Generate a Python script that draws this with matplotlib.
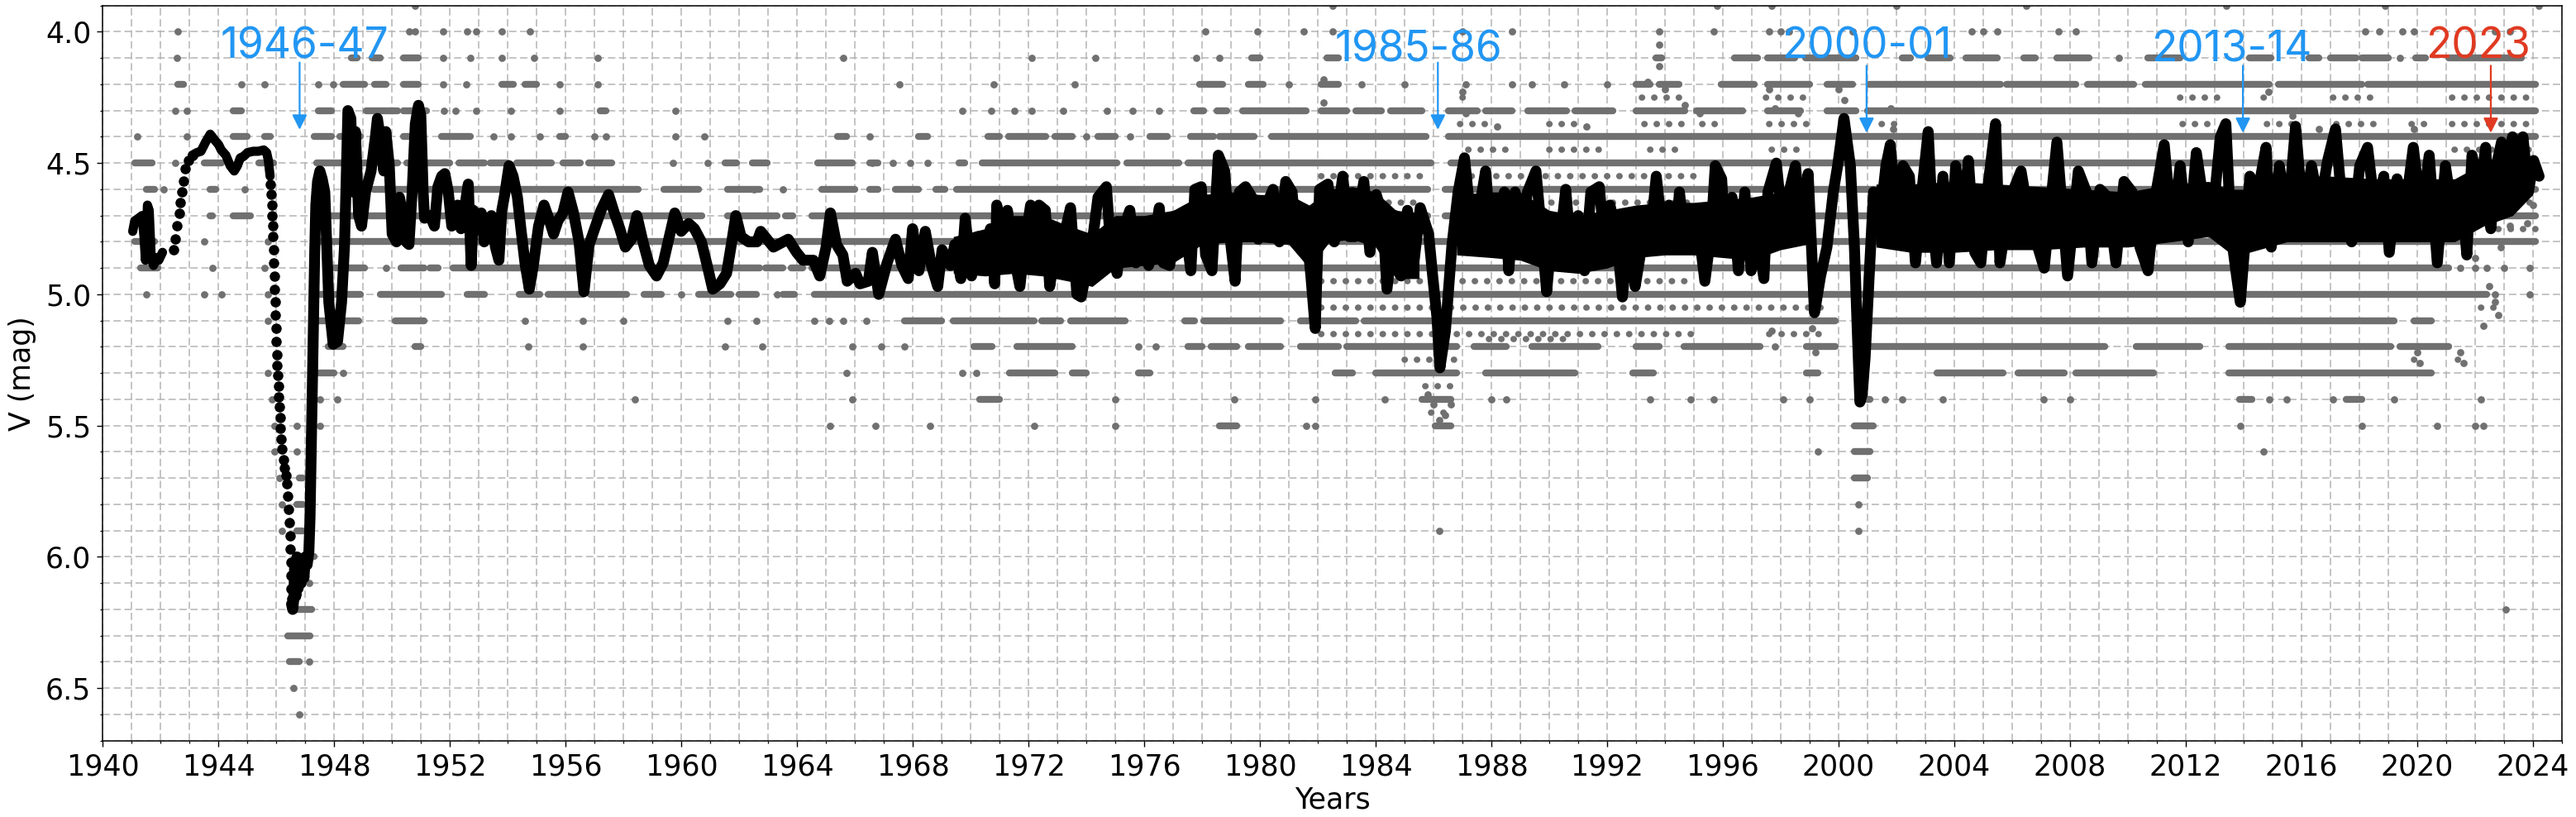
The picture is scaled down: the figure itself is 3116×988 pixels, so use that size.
"""V-band light curve 1940-2024: visual estimates (grey) with the smoothed curve (black)
and the five fading episodes marked with arrows."""

import matplotlib
matplotlib.use("Agg")
import matplotlib.pyplot as plt
from matplotlib.ticker import MultipleLocator, FormatStrFormatter

GREY = "#707070"
BLUE = "#2196F3"
RED = "#E03A22"

# ---- smoothed curve (black) ----
blob_year = [1941.03, 1941.10, 1941.23, 1941.35, 1941.42, 1941.47, 1941.54, 1941.60,
             1941.67, 1941.75, 1941.85, 1941.93, 1942.06]
blob_mag = [4.76, 4.72, 4.71, 4.70, 4.78, 4.87, 4.66, 4.68, 4.86, 4.89, 4.86, 4.87, 4.84]

rise_year = [1942.44, 1942.50, 1942.57, 1942.63, 1942.67, 1942.72, 1942.78, 1942.85,
             1942.97, 1943.09]
rise_mag = [4.83, 4.79, 4.74, 4.69, 4.65, 4.61, 4.57, 4.52, 4.49, 4.47]

plateau_year = [1943.09, 1943.25, 1943.39, 1943.55, 1943.71, 1943.85, 1944.00, 1944.09,
                1944.25, 1944.40, 1944.54, 1944.65, 1944.75, 1944.86, 1945.00, 1945.20,
                1945.37, 1945.56, 1945.66, 1945.72, 1945.78]
plateau_mag = [4.47, 4.46, 4.455, 4.42, 4.39, 4.41, 4.43, 4.45, 4.47, 4.51, 4.53, 4.51,
               4.48, 4.475, 4.46, 4.455, 4.455, 4.45, 4.46, 4.49, 4.55]

drop_year = [1945.80, 1945.82, 1945.84, 1945.85, 1945.87, 1945.88, 1945.89, 1945.905,
             1945.92, 1945.935, 1945.95, 1945.965, 1945.98, 1945.995, 1946.01, 1946.025,
             1946.04, 1946.06, 1946.08, 1946.10, 1946.12, 1946.14, 1946.17, 1946.20,
             1946.24, 1946.28, 1946.33, 1946.37, 1946.40, 1946.42, 1946.44, 1946.46,
             1946.48, 1946.49, 1946.50, 1946.51, 1946.52]
drop_mag = [4.58, 4.62, 4.66, 4.70, 4.74, 4.78, 4.83, 4.88, 4.93, 4.98, 5.03, 5.08, 5.13,
            5.18, 5.23, 5.27, 5.31, 5.35, 5.39, 5.43, 5.47, 5.51, 5.55, 5.59, 5.63, 5.66,
            5.69, 5.72, 5.77, 5.82, 5.87, 5.92, 5.97, 6.02, 6.07, 6.12, 6.16]

main_curve = [
    (1946.52, 6.18), (1946.56, 6.20), (1946.60, 6.16), (1946.63, 6.02), (1946.67, 6.15),
    (1946.71, 6.00), (1946.75, 6.12), (1946.80, 6.03), (1946.85, 6.10), (1946.90, 6.02),
    (1946.95, 6.08), (1947.00, 6.00), (1947.06, 6.03), (1947.12, 5.98), (1947.16, 5.85),
    (1947.20, 5.60), (1947.24, 5.35), (1947.28, 5.10), (1947.32, 4.85), (1947.36, 4.66),
    (1947.42, 4.57), (1947.50, 4.53), (1947.58, 4.56), (1947.67, 4.61), (1947.74, 4.82),
    (1947.81, 5.03), (1947.96, 5.19), (1948.11, 5.18), (1948.25, 5.03), (1948.35, 4.82),
    (1948.40, 4.61), (1948.47, 4.30), (1948.57, 4.33), (1948.65, 4.61), (1948.73, 4.38),
    (1948.84, 4.70), (1948.94, 4.74), (1949.08, 4.61), (1949.27, 4.53), (1949.42, 4.40),
    (1949.49, 4.33), (1949.61, 4.42), (1949.71, 4.53), (1949.78, 4.38), (1949.90, 4.51),
    (1950.00, 4.77), (1950.15, 4.80), (1950.25, 4.63), (1950.37, 4.70), (1950.48, 4.80),
    (1950.58, 4.81), (1950.69, 4.61), (1950.80, 4.35), (1950.91, 4.28), (1950.99, 4.32),
    (1951.07, 4.61), (1951.12, 4.71), (1951.31, 4.70), (1951.46, 4.74), (1951.58, 4.59),
    (1951.71, 4.55), (1951.82, 4.54), (1951.94, 4.61), (1952.06, 4.74), (1952.16, 4.68),
    (1952.26, 4.66), (1952.38, 4.75), (1952.49, 4.68), (1952.63, 4.58), (1952.73, 4.89),
    (1952.81, 4.68), (1952.95, 4.72), (1953.08, 4.69), (1953.18, 4.80), (1953.31, 4.78),
    (1953.43, 4.70), (1953.57, 4.82), (1953.69, 4.87), (1953.79, 4.68), (1953.89, 4.62),
    (1954.04, 4.51), (1954.18, 4.55), (1954.33, 4.63), (1954.45, 4.75), (1954.59, 4.88),
    (1954.74, 4.98), (1954.88, 4.89), (1955.06, 4.74), (1955.25, 4.66), (1955.41, 4.71),
    (1955.58, 4.77), (1955.73, 4.72), (1955.90, 4.69), (1956.08, 4.61), (1956.27, 4.69),
    (1956.46, 4.80), (1956.63, 4.99), (1956.81, 4.81), (1957.00, 4.75), (1957.22, 4.68),
    (1957.48, 4.62), (1957.68, 4.69), (1957.87, 4.75), (1958.06, 4.82), (1958.27, 4.79),
    (1958.46, 4.70), (1958.67, 4.80), (1958.89, 4.89), (1959.14, 4.93), (1959.37, 4.88),
    (1959.58, 4.78), (1959.77, 4.69), (1959.99, 4.76), (1960.25, 4.73), (1960.45, 4.75),
    (1960.69, 4.80), (1960.89, 4.89), (1961.08, 4.98), (1961.33, 4.96), (1961.56, 4.92),
    (1961.74, 4.80), (1961.88, 4.70), (1962.06, 4.78), (1962.32, 4.80), (1962.61, 4.80),
    (1962.74, 4.76), (1963.18, 4.82), (1963.69, 4.79), (1963.98, 4.84), (1964.20, 4.87),
    (1964.56, 4.87), (1964.78, 4.93), (1965.00, 4.82), (1965.15, 4.69), (1965.36, 4.81),
    (1965.58, 4.85), (1965.73, 4.95), (1966.02, 4.92), (1966.17, 4.96), (1966.46, 4.95),
    (1966.60, 4.84), (1966.82, 5.00), (1967.11, 4.88), (1967.40, 4.79), (1967.62, 4.89),
    (1967.84, 4.94), (1967.99, 4.75), (1968.21, 4.91), (1968.43, 4.76), (1968.64, 4.89),
    (1968.86, 4.97), (1969.01, 4.83), (1969.30, 4.89), (1969.45, 4.81), (1969.66, 4.94),
    (1969.81, 4.71), (1970.03, 4.93), (1970.25, 4.78), (1970.47, 4.89), (1970.68, 4.75),
    (1970.83, 4.96), (1970.90, 4.66), (1971.12, 4.82), (1971.27, 4.68), (1971.49, 4.85),
    (1971.70, 4.97), (1971.85, 4.82), (1972.07, 4.66), (1972.22, 4.90), (1972.36, 4.66),
    (1972.58, 4.68), (1972.73, 4.97), (1972.94, 4.82), (1973.24, 4.77), (1973.45, 4.67),
    (1973.67, 5.00), (1973.82, 5.01), (1973.96, 4.93), (1974.18, 4.82), (1974.40, 4.63),
    (1974.69, 4.59), (1974.84, 4.82), (1975.06, 4.92), (1975.20, 4.78), (1975.50, 4.68),
    (1975.71, 4.88), (1975.93, 4.79), (1976.15, 4.89), (1976.37, 4.78), (1976.52, 4.67),
    (1976.66, 4.88), (1976.88, 4.89), (1977.10, 4.70), (1977.39, 4.72), (1977.61, 4.91),
    (1977.75, 4.60), (1977.97, 4.59), (1978.12, 4.85), (1978.34, 4.91), (1978.56, 4.47),
    (1978.78, 4.53), (1978.92, 4.74), (1979.14, 4.95), (1979.29, 4.61), (1979.50, 4.59),
    (1979.72, 4.63), (1979.94, 4.79), (1980.16, 4.68), (1980.45, 4.60), (1980.67, 4.80),
    (1980.89, 4.57), (1981.11, 4.61), (1981.25, 4.79), (1981.54, 4.68), (1981.76, 4.93),
    (1981.91, 5.13), (1982.06, 4.60), (1982.35, 4.58), (1982.57, 4.80), (1982.86, 4.55),
    (1983.08, 4.78), (1983.29, 4.78), (1983.59, 4.57), (1983.80, 4.84), (1984.02, 4.62),
    (1984.24, 4.70), (1984.39, 4.98), (1984.68, 4.70), (1984.88, 4.93), (1985.10, 4.68),
    (1985.32, 4.88), (1985.54, 4.67), (1985.83, 4.77), (1985.97, 4.93), (1986.12, 5.09),
    (1986.22, 5.28), (1986.41, 5.14), (1986.63, 4.82), (1986.85, 4.61), (1987.07, 4.48),
    (1987.29, 4.72), (1987.43, 4.82), (1987.65, 4.63), (1987.80, 4.53), (1988.01, 4.82),
    (1988.23, 4.74), (1988.45, 4.61), (1988.60, 4.91), (1988.82, 4.61), (1989.03, 4.77),
    (1989.25, 4.61), (1989.54, 4.53), (1989.76, 4.80), (1989.91, 4.99), (1990.13, 4.72),
    (1990.35, 4.82), (1990.57, 4.60), (1990.78, 4.88), (1991.00, 4.70), (1991.22, 4.91),
    (1991.44, 4.61), (1991.73, 4.59), (1991.88, 4.77), (1992.10, 4.66), (1992.32, 4.77),
    (1992.53, 5.01), (1992.75, 4.74), (1992.97, 4.97), (1993.19, 4.82), (1993.48, 4.80),
    (1993.70, 4.55), (1993.92, 4.77), (1994.14, 4.66), (1994.36, 4.82), (1994.50, 4.61),
    (1994.72, 4.82), (1994.94, 4.78), (1995.16, 4.75), (1995.38, 4.95), (1995.59, 4.77),
    (1995.74, 4.51), (1995.96, 4.56), (1996.10, 4.82), (1996.32, 4.63), (1996.54, 4.91),
    (1996.76, 4.61), (1996.98, 4.91), (1997.20, 4.77), (1997.42, 4.94), (1997.56, 4.61),
    (1997.85, 4.50), (1998.07, 4.74), (1998.29, 4.61), (1998.51, 4.51), (1998.73, 4.75),
    (1998.95, 4.54), (1999.17, 5.07), (1999.38, 4.93), (1999.60, 4.82), (1999.82, 4.61),
    (1999.97, 4.51), (2000.19, 4.33), (2000.41, 4.51), (2000.55, 4.82), (2000.65, 5.14),
    (2000.74, 5.41), (2000.82, 5.38), (2000.92, 5.24), (2001.06, 4.93), (2001.21, 4.61),
    (2001.43, 4.72), (2001.64, 4.51), (2001.79, 4.43), (2002.01, 4.72), (2002.23, 4.51),
    (2002.45, 4.55), (2002.66, 4.88), (2002.88, 4.61), (2003.10, 4.38), (2003.25, 4.72),
    (2003.39, 4.88), (2003.61, 4.55), (2003.83, 4.88), (2004.05, 4.51), (2004.27, 4.72),
    (2004.49, 4.49), (2004.71, 4.84), (2004.92, 4.88), (2005.14, 4.61), (2005.43, 4.35),
    (2005.58, 4.88), (2005.80, 4.72), (2006.02, 4.61), (2006.31, 4.53), (2006.60, 4.72),
    (2006.89, 4.82), (2007.11, 4.90), (2007.55, 4.42), (2007.92, 4.93), (2008.29, 4.53),
    (2008.57, 4.61), (2008.76, 4.88), (2009.04, 4.60), (2009.31, 4.63), (2009.59, 4.88),
    (2009.87, 4.57), (2010.15, 4.61), (2010.42, 4.82), (2010.70, 4.91), (2010.98, 4.61),
    (2011.26, 4.43), (2011.54, 4.77), (2011.81, 4.51), (2012.09, 4.80), (2012.37, 4.46),
    (2012.65, 4.67), (2012.92, 4.72), (2013.20, 4.40), (2013.39, 4.35), (2013.57, 4.77),
    (2013.76, 4.93), (2013.89, 5.03), (2014.04, 4.82), (2014.22, 4.55), (2014.50, 4.61),
    (2014.78, 4.44), (2014.96, 4.82), (2015.24, 4.51), (2015.52, 4.72), (2015.80, 4.36),
    (2016.07, 4.72), (2016.35, 4.51), (2016.63, 4.67), (2016.91, 4.49), (2017.18, 4.37),
    (2017.46, 4.72), (2017.74, 4.80), (2018.02, 4.51), (2018.29, 4.44), (2018.57, 4.70),
    (2018.85, 4.55), (2019.04, 4.84), (2019.31, 4.56), (2019.59, 4.68), (2019.87, 4.44),
    (2020.15, 4.70), (2020.42, 4.47), (2020.70, 4.88), (2020.98, 4.51), (2021.26, 4.72),
    (2021.54, 4.61), (2021.72, 4.85), (2021.90, 4.47), (2022.18, 4.61), (2022.37, 4.44),
    (2022.55, 4.75), (2022.74, 4.51), (2022.92, 4.42), (2023.11, 4.57), (2023.30, 4.40),
    (2023.48, 4.60), (2023.66, 4.40), (2023.85, 4.61), (2024.03, 4.49), (2024.22, 4.55),
]

# densely filled core of the smoothed curve (bright / faint edge of the solid black)
core_a_year = [1969.4, 1970.5, 1971.5, 1972.5, 1973.4, 1974.2, 1975.0, 1976.0, 1977.0,
               1978.0, 1979.0, 1980.0, 1981.0, 1981.7, 1982.4, 1983.2, 1984.0, 1984.7, 1985.5]
core_a_top = [4.78, 4.75, 4.70, 4.70, 4.74, 4.77, 4.70, 4.70, 4.68, 4.62, 4.61, 4.62, 4.62,
              4.66, 4.60, 4.59, 4.61, 4.68, 4.69]
core_a_bot = [4.92, 4.93, 4.92, 4.93, 4.95, 4.97, 4.90, 4.89, 4.88, 4.81, 4.80, 4.80, 4.81,
              4.90, 4.80, 4.79, 4.82, 4.94, 4.94]
core_b_year = [1986.8, 1988.0, 1989.0, 1990.0, 1991.0, 1992.0, 1993.0, 1994.0, 1995.0,
               1996.0, 1997.0, 1998.0, 1998.9]
core_b_top = [4.62, 4.61, 4.61, 4.68, 4.70, 4.68, 4.66, 4.65, 4.65, 4.64, 4.63, 4.61, 4.59]
core_b_bot = [4.85, 4.86, 4.87, 4.91, 4.92, 4.90, 4.86, 4.85, 4.85, 4.86, 4.87, 4.83, 4.81]
core_c_year = [2001.3, 2002.5, 2004.0, 2005.5, 2007.0, 2008.5, 2010.0, 2011.5, 2012.8,
               2013.5, 2014.2, 2015.5, 2017.0, 2018.5, 2020.0, 2021.3, 2022.3, 2023.3, 2024.0]
core_c_top = [4.58, 4.58, 4.57, 4.58, 4.59, 4.60, 4.61, 4.58, 4.57, 4.60, 4.60, 4.55, 4.55,
              4.56, 4.56, 4.56, 4.50, 4.47, 4.50]
core_c_bot = [4.82, 4.84, 4.84, 4.83, 4.83, 4.82, 4.82, 4.80, 4.78, 4.84, 4.84, 4.80, 4.80,
              4.80, 4.80, 4.80, 4.74, 4.70, 4.62]

# ---- individual estimates (grey), quantised to 0.1 mag: (start, end) runs per level ----
band_41 = [(1948.6, 1948.8), (1949.3, 1949.6), (1950.4, 1950.9), (1979.7, 1980.0),
           (1982.3, 1982.7), (1993.7, 1993.9), (1996.4, 1997.2), (1997.55, 1998.5),
           (1998.85, 2000.6), (2002.2, 2002.5), (2003.1, 2003.85), (2004.4, 2005.5),
           (2006.4, 2006.8), (2007.55, 2008.65), (2010.7, 2011.8), (2014.2, 2014.95),
           (2016.25, 2016.6), (2017.0, 2017.9), (2018.1, 2019.0), (2019.95, 2020.3),
           (2021.1, 2023.6)]
band_42 = [(1942.6, 1942.8), (1948.3, 1949.05), (1949.4, 1949.8), (1950.4, 1950.9),
           (1953.8, 1954.2), (1954.6, 1955.0), (1977.9, 1978.7), (1979.6, 1980.1),
           (1982.1, 1982.7), (1993.0, 1993.5), (1993.8, 1994.5), (1995.95, 1997.1),
           (1997.55, 1999.0), (1999.6, 2000.5), (2001.05, 2005.6), (2005.8, 2008.2),
           (2008.6, 2010.2), (2010.6, 2014.9), (2015.2, 2018.1), (2018.3, 2024.1)]
band_43 = [(1944.5, 1944.8), (1947.45, 1947.9), (1949.1, 1950.2), (1950.4, 1951.2),
           (1957.2, 1957.4), (1977.7, 1978.05), (1978.5, 1978.85), (1979.4, 1981.6),
           (1982.1, 1983.0), (1983.3, 1984.2), (1984.5, 1985.6), (1986.5, 1987.5),
           (1987.8, 1988.7), (1989.25, 1990.6), (1990.9, 1992.2), (1993.0, 1994.7),
           (1995.1, 1996.7), (1997.55, 1998.7), (1999.6, 2000.6), (2001.0, 2024.1)]
band_44 = [(1944.5, 1945.0), (1945.6, 1945.8), (1947.3, 1947.9), (1948.2, 1948.9),
           (1950.4, 1950.6), (1951.7, 1952.7), (1955.8, 1956.0), (1965.4, 1965.7),
           (1968.2, 1968.5), (1970.6, 1971.0), (1971.3, 1972.6), (1972.9, 1973.5),
           (1974.4, 1975.0), (1976.2, 1976.8), (1977.6, 1978.4), (1978.6, 1979.8),
           (1980.4, 1985.75), (1986.5, 2024.1)]
band_45 = [(1941.1, 1941.7), (1943.5, 1944.1), (1945.4, 1945.9), (1947.4, 1948.5),
           (1948.7, 1950.2), (1950.5, 1952.0), (1952.3, 1953.2), (1953.4, 1954.0),
           (1954.3, 1955.5), (1955.9, 1956.5), (1956.8, 1957.6), (1961.5, 1961.9),
           (1962.45, 1962.95), (1964.7, 1965.9), (1966.5, 1966.8), (1969.6, 1969.8),
           (1970.4, 1975.06), (1975.4, 1977.2), (1977.5, 1985.9), (1986.6, 2024.1)]
band_46 = [(1941.5, 1941.8), (1943.7, 1943.9), (1949.35, 1958.5), (1959.4, 1960.6),
           (1961.6, 1962.7), (1964.85, 1966.0), (1966.5, 1966.8), (1967.4, 1968.2),
           (1968.8, 1969.1), (1969.5, 1985.8), (1986.4, 2024.1)]
band_47 = [(1943.7, 1943.8), (1944.5, 1945.1), (1947.45, 1960.7), (1961.6, 1963.3),
           (1963.6, 1963.85), (1964.5, 1985.8), (1986.4, 2024.1)]
band_48 = [(1941.1, 1941.8), (1947.45, 2024.1)]
band_49 = [(1941.3, 1941.9), (1948.0, 1949.05), (1950.3, 1951.1), (1951.3, 1951.6),
           (1952.1, 1962.7), (1962.9, 1963.5), (1963.8, 1964.2), (1964.5, 2021.1)]
band_50 = [(1947.45, 1948.9), (1949.6, 1951.7), (1952.6, 1953.2), (1954.4, 1955.1),
           (1955.4, 1956.6), (1956.85, 1958.1), (1958.7, 1959.3), (1960.6, 1961.7),
           (1962.0, 1962.6), (1963.5, 1963.9), (1964.6, 1969.3), (1969.4, 2022.4)]
band_51 = [(1947.3, 1947.9), (1948.2, 1948.85), (1950.1, 1951.1), (1967.7, 1969.0),
           (1969.4, 1972.2), (1972.45, 1973.1), (1973.45, 1975.35), (1977.4, 1977.75),
           (1978.05, 1980.7), (1981.4, 1983.3), (1983.6, 1999.9), (2001.06, 2019.2),
           (2019.9, 2020.5)]
band_52 = [(1947.8, 1948.3), (1950.8, 1951.0), (1970.1, 1970.75), (1971.6, 1973.5),
           (1977.5, 1978.0), (1978.3, 1979.2), (1979.6, 1980.7), (1981.4, 1982.7),
           (1983.0, 1986.8), (1987.4, 1988.5), (1989.4, 1991.7), (1993.0, 1993.8),
           (1994.65, 1997.3), (1998.9, 1999.9), (2001.07, 2009.2), (2010.3, 2012.5),
           (2013.5, 2019.1), (2019.4, 2021.1)]
band_53 = [(1947.45, 1948.0), (1971.35, 1972.9), (1973.5, 1974.0), (1975.8, 1976.2),
           (1982.6, 1983.2), (1984.0, 1986.8), (1987.8, 1990.9), (1992.9, 1993.6),
           (1998.9, 1999.3), (2003.4, 2005.7), (2006.2, 2007.8), (2008.2, 2010.9),
           (2013.5, 2020.5)]
band_54 = [(1970.3, 1971.0), (1985.6, 1986.6), (2000.7, 2001.1), (2013.85, 2014.3),
           (2017.55, 2018.1)]
band_55 = [(1978.6, 1979.2), (1986.05, 1986.6), (2000.55, 2001.2)]
band_56 = [(2000.55, 2001.1)]
band_57 = [(2000.55, 2001.0), (1946.8, 1946.9)]
band_58 = [(1946.71, 1946.9)]
band_59 = [(1946.71, 1946.9)]
band_60 = [(1946.71, 1947.3)]
band_62 = [(1946.52, 1947.22)]
band_63 = [(1946.40, 1947.16)]
band_64 = [(1946.45, 1946.80)]

band_levels = [4.1, 4.2, 4.3, 4.4, 4.5, 4.6, 4.7, 4.8, 4.9, 5.0, 5.1, 5.2, 5.3, 5.4,
               5.5, 5.6, 5.7, 5.8, 5.9, 6.0, 6.2, 6.3, 6.4]
band_runs = [band_41, band_42, band_43, band_44, band_45, band_46, band_47, band_48,
             band_49, band_50, band_51, band_52, band_53, band_54, band_55,
             band_56, band_57, band_58, band_59, band_60, band_62, band_63, band_64]

# photoelectric / CCD points between the 0.1 mag levels: runs of scattered points
off_425 = [(1987.0, 1987.3), (1993.2, 1994.6), (1997.5, 1998.9), (2011.8, 2013.1),
           (2014.7, 2015.1), (2017.1, 2018.7), (2021.2, 2024.1)]
off_435 = [(1986.9, 1988.0), (1990.0, 1991.0), (1993.3, 1994.8), (1995.3, 1996.0),
           (1997.6, 1998.9), (2001.5, 2002.0), (2011.9, 2013.0), (2014.8, 2015.9),
           (2017.2, 2018.7), (2019.8, 2020.5), (2021.2, 2024.1)]
off_445 = [(1987.2, 1988.8), (1990.0, 1992.0), (1993.5, 1994.5), (1997.7, 1998.9),
           (2021.3, 2024.1)]
off_455 = [(1982.1, 1985.7), (1987.3, 1995.0), (2022.0, 2024.1)]
off_465 = [(1982.3, 1985.5), (1987.5, 1994.8), (2022.6, 2024.1)]
off_475 = [(2012.4, 2013.1), (2022.8, 2024.1)]
off_495 = [(1982.1, 1985.7), (1987.0, 1995.0)]
off_505 = [(1982.1, 1986.0), (1986.6, 1999.5), (2022.2, 2023.0)]
off_515 = [(1982.1, 1986.3), (1986.8, 1995.0), (1997.6, 1999.4)]
off_517 = [(1987.9, 1990.8)]
off_525 = [(1985.0, 1986.8), (2019.9, 2020.2), (2021.4, 2021.7)]
off_535 = [(1985.7, 1986.7)]
off_545 = [(1985.9, 1986.6)]

off_levels = [4.25, 4.35, 4.45, 4.55, 4.65, 4.75, 4.95, 5.05, 5.15, 5.17, 5.25, 5.35, 5.45]
off_runs = [off_425, off_435, off_445, off_455, off_465, off_475, off_495, off_505,
            off_515, off_517, off_525, off_535, off_545]

# isolated estimates: years per magnitude level
dots_39 = [1950.8, 1982.5, 1995.8, 1997.7, 2002.0, 2006.5, 2013.4, 2018.9, 2024.2]
dots_40 = [1942.6, 1950.6, 1950.8, 1951.75, 1952.6, 1952.9, 1953.8, 1954.75, 1978.1,
           1979.9, 1981.5, 1982.5, 1987.0, 1988.7, 1993.8, 1995.7, 1997.6, 1998.0, 1998.3,
           2000.5, 2004.6, 2005.0, 2005.5, 2007.6, 2008.2, 2018.2, 2018.7, 2019.5, 2019.9,
           2022.7, 2023.2]
dots_41 = [1942.57, 1951.75, 1952.7, 1953.8, 1954.9, 1957.1, 1965.6, 1972.1, 1974.3,
           1977.8, 1978.6, 2009.7, 2019.4]
dots_42 = [1944.8, 1945.6, 1947.45, 1947.96, 1951.75, 1952.55, 1955.8, 1957.1, 1967.55,
           1970.8, 1973.6, 1981.0, 1983.5, 1985.0, 1987.1, 1988.7, 1989.4, 1990.5, 1992.0]
dots_43 = [1942.5, 1942.9, 1951.8, 1952.2, 1952.9, 1954.1, 1955.8, 1959.8, 1969.7,
           1970.7, 1971.5, 1972.1, 1973.2, 1974.7, 1975.6, 1976.5]
dots_44 = [1941.2, 1942.9, 1953.5, 1954.1, 1955.1, 1957.0, 1957.4, 1959.8, 1960.8,
           1966.5, 1974.0, 1975.5]
dots_45 = [1942.5, 1959.7, 1960.9, 1966.6, 1967.3, 1967.9, 1968.5]
dots_46 = [1942.1, 1944.9, 1962.5, 1963.5]
dots_48 = [1943.5, 1945.7]
dots_49 = [1943.8, 1945.6, 1949.8, 2021.5, 2022.0, 2022.4, 2023.0, 2023.9]
dots_50 = [1941.5, 1943.5, 1944.1, 1945.7, 1960.0, 1963.3, 2022.7, 2023.9]
dots_51 = [1945.7, 1954.6, 1956.6, 1958.0, 1961.6, 1962.6, 1964.6, 1965.1, 1965.6, 1966.4]
dots_52 = [1954.7, 1956.6, 1961.5, 1962.8, 1965.9, 1966.9, 1967.7, 1975.8, 1976.4]
dots_53 = [1945.7, 1948.3, 1965.7, 1969.7, 1970.2]
dots_54 = [1945.85, 1947.5, 1948.1, 1958.4, 1965.9, 1975.0, 1979.1, 1981.9, 1984.3,
           1988.0, 1988.5, 1993.5, 1994.9, 1995.7, 1998.1, 1999.0, 2001.6, 2002.2, 2003.6,
           2007.1, 2008.0, 2014.9, 2015.5, 2017.1, 2019.2, 2022.2]
dots_55 = [1945.94, 1946.71, 1947.5, 1965.15, 1966.7, 1968.6, 1972.2, 1975.0, 1981.6,
           1981.9, 2013.9, 2018.1, 2020.7, 2022.0, 2022.3]
dots_56 = [1945.94, 1946.71, 1999.3, 2014.7]
dots_57 = [1946.09]
dots_58 = [1946.2, 2000.7]
dots_59 = [1946.2, 1986.2, 2000.7]
dots_61 = [1947.13]
dots_62 = [2023.07]
dots_64 = [1947.13]
dots_65 = [1946.58]
dots_66 = [1946.8]

dot_levels = [3.9, 4.0, 4.1, 4.2, 4.3, 4.4, 4.5, 4.6, 4.8, 4.9, 5.0, 5.1, 5.2, 5.3, 5.4,
              5.5, 5.6, 5.7, 5.8, 5.9, 6.1, 6.2, 6.4, 6.5, 6.6]
dot_years = [dots_39, dots_40, dots_41, dots_42, dots_43, dots_44, dots_45, dots_46,
             dots_48, dots_49, dots_50, dots_51, dots_52, dots_53, dots_54, dots_55,
             dots_56, dots_57, dots_58, dots_59, dots_61, dots_62, dots_64, dots_65, dots_66]

# scattered single off-grid points
cloud = [
    (1982.2, 4.18), (1982.2, 4.27), (1987.0, 4.23), (1987.1, 4.31), (1993.8, 4.05),
    (1993.8, 4.13), (1993.4, 4.19), (1994.0, 4.22), (1994.7, 4.28), (1995.2, 4.31),
    (1997.6, 4.22), (1997.8, 4.29), (1998.6, 4.31), (1999.1, 5.13), (1999.2, 5.22),
    (2000.0, 4.22), (2000.2, 4.26), (2001.8, 4.29), (2001.9, 4.37), (1984.7, 4.74),
    (1985.1, 4.77), (1988.2, 4.36), (1991.3, 4.36), (1997.7, 5.14), (1997.8, 5.20),
    (2012.7, 4.73), (2012.9, 4.78), (2013.1, 4.77), (2014.85, 4.23), (2015.7, 4.32),
    (2016.6, 4.37), (2019.9, 4.37), (2020.0, 5.22), (2020.1, 5.26), (2021.5, 5.22),
    (2021.6, 5.26), (2022.0, 4.86), (2022.3, 5.12), (2022.5, 4.97), (2022.7, 5.03),
    (2022.8, 5.08), (2022.9, 4.82), (2023.2, 4.74), (2023.8, 4.73), (2024.0, 4.66),
    (1986.0, 5.42), (1986.2, 5.48), (1986.4, 5.46), (1986.6, 5.42), (1985.8, 5.38),
]

# fading episodes
event_labels = ["1946-47", "1985-86", "2000-01", "2013-14", "2023"]
event_year = [1946.8, 1986.15, 2000.97, 2013.98, 2022.55]
label_year = [1946.96, 1985.47, 2000.96, 2013.6, 2022.1]
event_colors = [BLUE, BLUE, BLUE, BLUE, RED]


def _runs(levels, runs):
    ys, xa, xb = [], [], []
    for lvl, rr in zip(levels, runs):
        for a, b in rr:
            ys.append(lvl)
            xa.append(a)
            xb.append(b)
    return ys, xa, xb


def main():
    fig = plt.figure(figsize=(31.16, 9.88), dpi=100)
    ax = fig.add_axes([0.03995, 0.0934, 0.95449, 0.8998])

    # grey estimates
    ys, xa, xb = _runs(band_levels, band_runs)
    ax.hlines(ys, xa, xb, colors=GREY, lw=6.0, capstyle="round", zorder=2)
    ys, xa, xb = _runs(off_levels, off_runs)
    ax.hlines(ys, xa, xb, colors=GREY, lw=5.5, capstyle="round",
              linestyles=[(0, (0.05, 1.9))], zorder=2)

    dx, dy = [], []
    for lvl, yrs in zip(dot_levels, dot_years):
        dx += yrs
        dy += [lvl] * len(yrs)
    cx, cy = zip(*cloud)
    ax.scatter(list(dx) + list(cx), list(dy) + list(cy), s=40, color=GREY, lw=0, zorder=2)

    # smoothed curve
    ax.fill_between(core_a_year, core_a_top, core_a_bot, color="black", lw=0, zorder=3)
    ax.fill_between(core_b_year, core_b_top, core_b_bot, color="black", lw=0, zorder=3)
    ax.fill_between(core_c_year, core_c_top, core_c_bot, color="black", lw=0, zorder=3)
    ax.plot(blob_year, blob_mag, "-", color="black", lw=8,
            solid_joinstyle="round", solid_capstyle="round", zorder=3)
    ax.plot(rise_year, rise_mag, "o", color="black", ms=8, zorder=3)
    ax.plot(plateau_year, plateau_mag, "-", color="black", lw=8,
            solid_joinstyle="round", solid_capstyle="round", zorder=3)
    ax.plot(drop_year, drop_mag, "o", color="black", ms=8, zorder=3)
    my, mm = zip(*main_curve)
    ax.plot(my, mm, "-", color="black", lw=9.5,
            solid_joinstyle="round", solid_capstyle="round", zorder=3)

    # episode labels and arrows
    for lab, xa_, xt, col in zip(event_labels, event_year, label_year, event_colors):
        base = 4.113 if lab in ("1985-86", "2013-14") else 4.10
        ax.text(xt, base, lab, ha="center", va="baseline", fontsize=37,
                color=col, family=["Inter", "DejaVu Sans"], zorder=6)
        tail = 4.117 if lab in ("1946-47", "1985-86") else 4.129
        ax.annotate("", xy=(xa_, tail + 0.256), xytext=(xa_, tail),
                    arrowprops=dict(arrowstyle="-|>", color=col, lw=1.6,
                                    mutation_scale=27, shrinkA=0, shrinkB=0),
                    zorder=6)

    ax.set_xlim(1940, 2025)
    ax.set_ylim(6.7, 3.9)
    ax.xaxis.set_major_locator(MultipleLocator(4))
    ax.xaxis.set_minor_locator(MultipleLocator(1))
    ax.yaxis.set_major_locator(MultipleLocator(0.5))
    ax.yaxis.set_minor_locator(MultipleLocator(0.1))
    ax.yaxis.set_major_formatter(FormatStrFormatter("%.1f"))

    ax.set_axisbelow(True)
    ax.grid(True, which="both", color="#b4b4b4", lw=1.1, ls=(0, (5.8, 2.9)))
    ax.tick_params(which="major", labelsize=25, length=4.8, width=1, pad=5.5)
    ax.tick_params(which="minor", length=2.4, width=0.9)
    ax.set_xlabel("Years", fontsize=25, labelpad=5)
    ax.set_ylabel("V (mag)", fontsize=25, labelpad=8)
    for sp in ax.spines.values():
        sp.set_linewidth(1.1)

    fig.savefig("out.png", dpi=100)


if __name__ == "__main__":
    main()
